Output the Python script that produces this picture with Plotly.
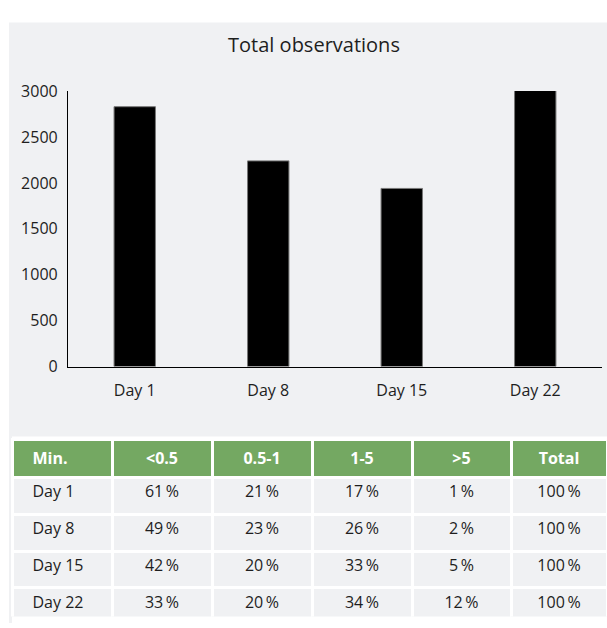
import plotly.graph_objects as go

W, H = 607, 628

days = ["Day 1", "Day 8", "Day 15", "Day 22"]
observations = [2830, 2240, 1940, 3010]
y_ticks = [0, 500, 1000, 1500, 2000, 2500, 3000]

table_header = ["Min.", "<0.5", "0.5-1", "1-5", ">5", "Total"]
share_lt05 = [61, 49, 42, 33]
share_05_1 = [21, 23, 20, 20]
share_1_5 = [17, 26, 33, 34]
share_gt5 = [1, 2, 5, 12]
share_total = [100, 100, 100, 100]

FONT = "Open Sans"
PANEL = "#f0f1f3"
GREEN = "#74a862"
TXT = "#1e1e1e"
PAD = "\u00a0\u00a0\u00a0"


def px_x(p):
    return p / W


def px_y(p):
    return 1 - p / H


def pct(vals):
    return [f"{v}\u2009%" for v in vals]


fig = go.Figure()

fig.add_trace(go.Bar(
    x=days, y=observations,
    marker=dict(color="#000000", line=dict(color="#777777", width=1)),
    width=0.31, cliponaxis=False, showlegend=False, hoverinfo="x+y",
))

fig.add_trace(go.Table(
    domain=dict(x=[px_x(12), 1.0], y=[0.0, px_y(444)]),
    columnwidth=[100, 100, 100, 100, 99, 96],
    columnorder=[0, 1, 2, 3, 4, 5],
    header=dict(
        values=[f"<b>{PAD}{table_header[0]}</b>"] + [f"<b>{h}</b>" for h in table_header[1:]],
        fill_color=GREEN,
        line=dict(color="white", width=3),
        align=["left", "center", "center", "center", "center", "center"],
        font=dict(family=FONT, size=16, color="white"),
        height=36.8,
    ),
    cells=dict(
        values=[[PAD + d for d in days], pct(share_lt05), pct(share_05_1),
                pct(share_1_5), pct(share_gt5), pct(share_total)],
        fill_color=PANEL,
        line=dict(color="white", width=3),
        align=["left", "center", "center", "center", "center", "center"],
        font=dict(family=FONT, size=16, color=TXT),
        height=36.8,
    ),
))

fig.update_layout(
    width=W, height=H,
    margin=dict(l=0, r=0, t=0, b=0),
    paper_bgcolor="white",
    plot_bgcolor=PANEL,
    font=dict(family=FONT, color=TXT),
    title=dict(text="Total observations", x=px_x(314), y=px_y(45),
               xanchor="center", yanchor="middle",
               font=dict(family=FONT, size=20, color=TXT)),
    shapes=[
        dict(type="rect", xref="paper", yref="paper", layer="below",
             x0=px_x(9), x1=1.01, y0=-0.01, y1=px_y(12),
             fillcolor=PANEL, line=dict(width=0)),
        dict(type="rect", xref="paper", yref="paper", layer="below",
             x0=px_x(12), x1=1.01, y0=-0.01, y1=px_y(441),
             fillcolor="white", line=dict(width=0)),
    ],
    xaxis=dict(
        domain=[px_x(68), px_x(602)], range=[-0.5, 3.5],
        showline=True, linecolor="#000000", linewidth=1.2,
        ticks="", showgrid=False, zeroline=False,
        tickfont=dict(family=FONT, size=16, color=TXT),
        ticklabelstandoff=9,
    ),
    yaxis=dict(
        domain=[px_y(368.5), px_y(83)], range=[0, 3000],
        tickvals=y_ticks, ticktext=[str(v) for v in y_ticks],
        showline=True, linecolor="#000000", linewidth=1.2,
        ticks="", showgrid=False, zeroline=False,
        tickfont=dict(family=FONT, size=16, color=TXT),
        ticklabelstandoff=6,
    ),
)

fig.write_html(
    "out.html",
    config={"displayModeBar": False},
    post_script="document.body.style.margin='0';document.body.style.overflow='hidden';",
)
